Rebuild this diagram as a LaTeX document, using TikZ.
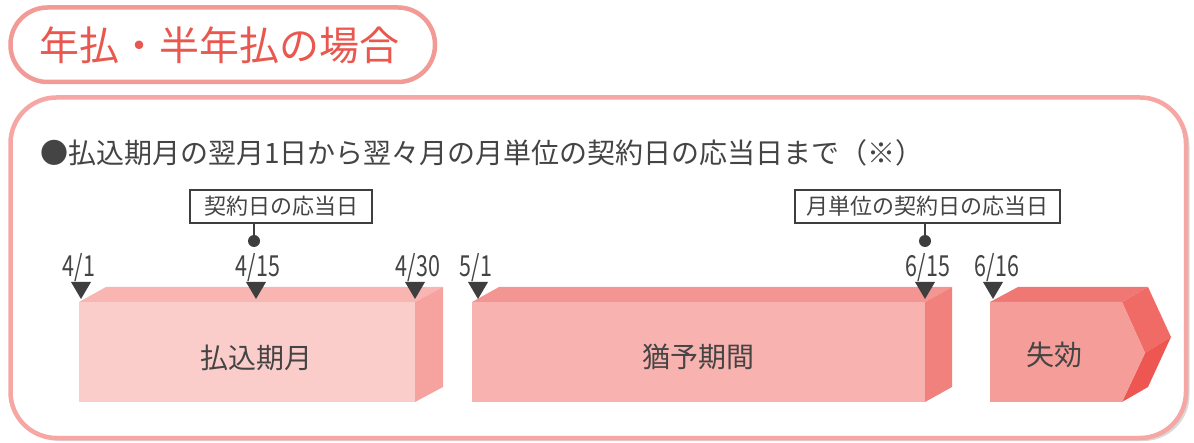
\documentclass[tikz,border=0pt]{standalone}
\usepackage{fontspec}
\setmainfont{Noto Sans CJK JP}
\newfontfamily\cjknum{Noto Sans CJK JP}[FakeStretch=0.74]
\definecolor{pillstroke}{HTML}{F29A95}
\definecolor{boxstroke}{HTML}{F6A7A3}
\definecolor{titletext}{HTML}{E9574E}
\definecolor{darkmark}{HTML}{3E3E3E}
\definecolor{textgray}{HTML}{444444}
\definecolor{bAfront}{HTML}{FBCDCA}
\definecolor{bAtop}{HTML}{F8B5B2}
\definecolor{bAside}{HTML}{F6A29E}
\definecolor{bBfront}{HTML}{F8B3B0}
\definecolor{bBtop}{HTML}{F39592}
\definecolor{bBside}{HTML}{F0817C}
\definecolor{bCfront}{HTML}{F59D99}
\definecolor{bCtop}{HTML}{F07874}
\definecolor{bCsideu}{HTML}{F06B66}
\definecolor{bCsidel}{HTML}{EE5751}
\tikzset{
  datelbl/.style={text=textgray, font=\cjknum\fontsize{29}{30}\selectfont, inner sep=0pt},
  boxlbl/.style={text=textgray, font=\fontsize{28}{32}\selectfont, inner sep=0pt},
  tagbox/.style={draw=darkmark, line width=1.2pt, fill=white, text=textgray,
     font=\fontsize{22}{24}\selectfont, inner sep=0pt, minimum height=33pt},
  pin/.style={circle, fill=darkmark, inner sep=0pt, minimum size=12pt},
  tri/.style={fill=darkmark},
}
\begin{document}
\begin{tikzpicture}[x=1pt,y=-1pt]
\useasboundingbox (0,0) rectangle (1194,443);
% title pill
\draw[pillstroke, line width=4.5pt, fill=white, rounded corners=37pt] (10.5,7.5) rectangle (435,82);
\node[text=titletext, font=\fontsize{40}{44}\selectfont, inner sep=0pt] (title) at (219,45) {年払・半年払の場合};
% main box shadow and frame
\fill[black!15, rounded corners=46pt] (13.5,100.5) rectangle (1189.5,441);
\draw[boxstroke, line width=4.5pt, fill=white, rounded corners=46pt] (10.5,97.5) rectangle (1186,438);
% bullet text
\node[anchor=west, text=textgray, font=\fontsize{28}{30}\selectfont, inner sep=0pt] (lead) at (40,153)
  {●払込期月の翌月1日から翌々月の月単位の契約日の応当日まで（※）};
% tags
\node[tagbox, minimum width=182pt] (tagA) at (281,206.5) {契約日の応当日};
\node[pin] (pinA) at (254,241) {};
\draw[darkmark, line width=1.6pt] (pinA.center |- tagA.south) -- (pinA.center);
\node[tagbox, minimum width=265pt] (tagB) at (927.5,206.5) {月単位の契約日の応当日};
\node[pin] (pinB) at (925,241) {};
\draw[darkmark, line width=1.6pt] (pinB.center |- tagB.south) -- (pinB.center);
% box 1
\fill[bAtop] (79,302) -- (106,287) -- (443,287) -- (415,302) -- cycle;
\fill[bAside] (415,302) -- (443,287) -- (443,387) -- (415,402) -- cycle;
\fill[bAfront] (79,302) rectangle (415,402);
\node[boxlbl] (lblA) at (256,358) {払込期月};
% box 2
\fill[bBtop] (472,302) -- (499,287) -- (952,287) -- (925,302) -- cycle;
\fill[bBside] (925,302) -- (952,287) -- (952,387) -- (925,402) -- cycle;
\fill[bBfront] (472,302) rectangle (925,402);
\node[boxlbl] (lblB) at (698,357) {猶予期間};
% box 3 (arrow)
\fill[bCtop] (990,302) -- (1018,287) -- (1148,287) -- (1122,302) -- cycle;
\fill[bCsideu] (1122,302) -- (1148,287) -- (1171,337) -- (1145,353) -- cycle;
\fill[bCsidel] (1145,353) -- (1171,337) -- (1148,387) -- (1122,402) -- cycle;
\fill[bCfront] (990,302) -- (1122,302) -- (1145,353) -- (1122,402) -- (990,402) -- cycle;
\node[boxlbl] (lblC) at (1054,355) {失効};
% date markers
\foreach \x in {81,256,415,478,925,993}{
  \fill[tri] (\x-10,282) -- (\x+10,282) -- (\x,299) -- cycle;
}
\node[datelbl] (d1) at (79,268) {4/1};
\node[datelbl] (d2) at (258,268) {4/15};
\node[datelbl] (d3) at (418,268) {4/30};
\node[datelbl] (d4) at (476,268) {5/1};
\node[datelbl] (d5) at (928,268) {6/15};
\node[datelbl] (d6) at (997,268) {6/16};
\end{tikzpicture}
\end{document}
